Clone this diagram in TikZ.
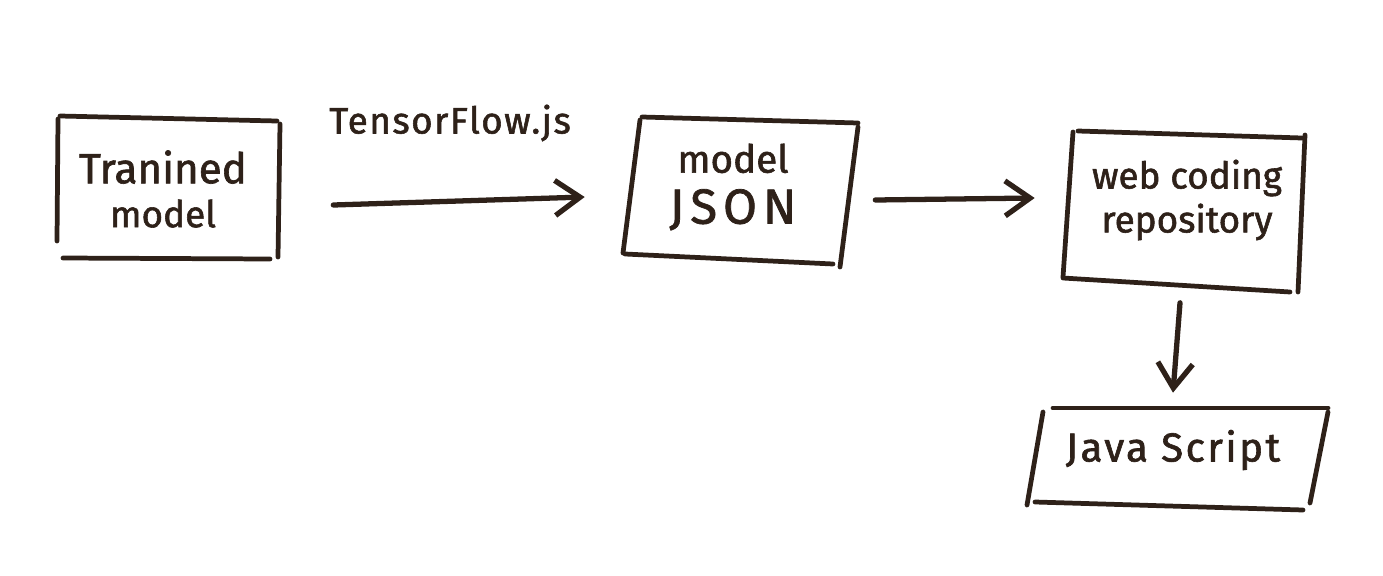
\documentclass[tikz,border=0pt]{standalone}
\usepackage{fontspec}
\setmainfont{Fira Sans}[FakeBold=1.5]
\usetikzlibrary{calc,arrows.meta,positioning}
\definecolor{ink}{HTML}{2E2119}

\begin{document}
\begin{tikzpicture}[x=0.02cm,y=-0.02cm]

\tikzset{sketchnode/.style={font=\fontsize{21}{25}\selectfont,text=ink,align=center,inner sep=0pt},
stroke/.style={draw=ink,line width=2.7pt,line cap=round},
arrow/.style={draw=ink,line width=3pt,line cap=round,line join=round,-{Straight Barb[length=5mm,width=7mm]}}}

% Page
\fill[white] (0,0) rectangle (1383,575);
\useasboundingbox (0,0) rectangle (1383,575);

% Text nodes
\node[sketchnode,minimum width=4.44cm,minimum height=2.88cm] (trained) at (163,189) {\fontsize{24}{25}\selectfont Tranined\\model};
\node[sketchnode,minimum width=4.52cm,minimum height=2.84cm] (json) at (733,187) {\fontsize{22}{25}\selectfont model\\[4pt]\fontsize{28}{30}\selectfont\addfontfeature{LetterSpace=12}JSON};
\node[sketchnode,minimum width=4.72cm,minimum height=3.1cm] (repo) at (1187,200) {web coding\\repository};
\node[sketchnode,minimum width=5.8cm,minimum height=1.96cm] (jscript) at (1173,450) {\fontsize{23}{25}\selectfont\addfontfeature{LetterSpace=6}Java Script};
\node[sketchnode] (tfjs) at (450,123) {\addfontfeature{LetterSpace=4}TensorFlow.js};

% Hand drawn box sides
\draw[stroke] (60,116) -- (277,121); \draw[stroke] (58,119) -- (57,241); \draw[stroke] (280,124) -- (278,257); \draw[stroke] (63,258) -- (270,259); % trained
\draw[stroke] (642,117) -- (858,123); \draw[stroke] (640,120) -- (623,253); \draw[stroke] (858,127) -- (840,267); \draw[stroke] (625,254) -- (833,264); % json
\draw[stroke] (1078,131) -- (1302,138); \draw[stroke] (1073,132) -- (1063,277); \draw[stroke] (1305,135) -- (1298,292); \draw[stroke] (1063,278) -- (1290,292); % repo
\draw[stroke] (1053,408) -- (1328,408); \draw[stroke] (1043,412) -- (1027,505); \draw[stroke] (1328,412) -- (1310,503); \draw[stroke] (1035,502) -- (1303,510); % jscript

% Arrows
\draw[arrow] ($(trained.east)+(59,16)$) -- ($(json.west)+(-35,10)$);
\draw[arrow] ($(json.east)+(29,13)$) -- ($(repo.west)+(-34,-2)$);
\draw[arrow] ($(repo.south)+(-7,25)$) -- ($(jscript.north)+(0,-8)$);

\end{tikzpicture}
\end{document}
